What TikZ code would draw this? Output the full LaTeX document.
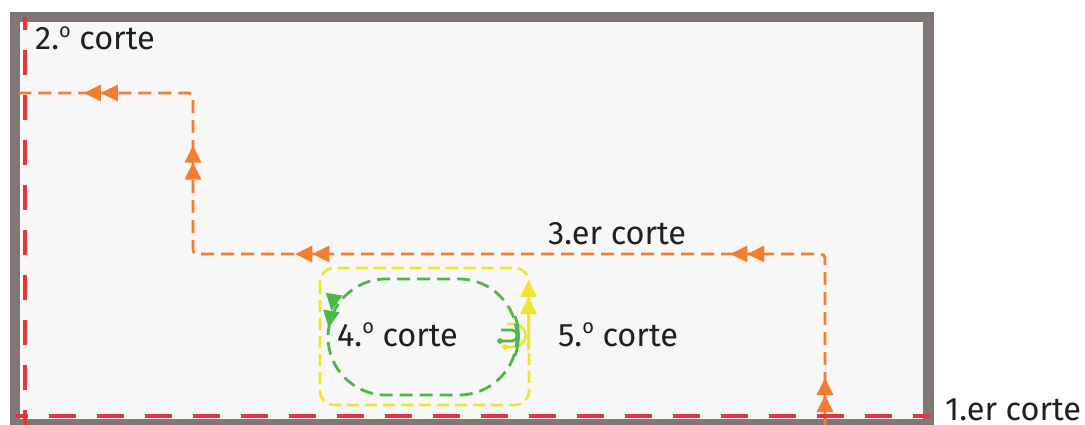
\documentclass[tikz,border=0pt]{standalone}
\usepackage{fontspec}
\setmainfont{Fira Sans}
\usetikzlibrary{arrows.meta,decorations.markings}
\definecolor{framegray}{HTML}{7F7773}
\definecolor{paper}{HTML}{F7F7F7}
\definecolor{cutred}{HTML}{E8343A}
\definecolor{cutorange}{HTML}{F47D2F}
\definecolor{cutgreen}{HTML}{4DB848}
\definecolor{cutyellow}{HTML}{EDE52E}
\definecolor{ink}{HTML}{231F20}
\newcommand{\ordo}{\raisebox{12.5pt}{\fontsize{20}{20}\selectfont o}}
\tikzset{
  dtri/.tip={Triangle[length=17pt,width=16pt] Triangle[length=17pt,width=16pt]},
  lbl/.style={font=\fontsize{32.5}{32.5}\selectfont, text=ink, inner sep=0pt, anchor=base west},
  redcut/.style={cutred, line width=3.2pt},
  orangecut/.style={cutorange, line width=2.8pt, dash pattern=on 13pt off 7pt},
  greencut/.style={cutgreen, line width=2.8pt},
  yellowcut/.style={cutyellow, line width=2.6pt},
}
\begin{document}
\begin{tikzpicture}[x=1pt,y=-1pt]
\useasboundingbox (0,0) rectangle (1085,425);
% frame and sheet
\fill[framegray] (10,12) rectangle (934,440);
\fill[paper] (20,22) rectangle (923,419);
% orange path (3rd cut)
\draw[orangecut, rounded corners=4pt,
  decoration={markings,
    mark=at position 47pt with {\arrow{dtri}},
    mark=at position 264pt with {\arrow{dtri}},
    mark=at position 699pt with {\arrow{dtri}},
    mark=at position 908pt with {\arrow{dtri}},
    mark=at position 1068pt with {\arrow{dtri}}},
  postaction={decorate}]
  (825,425) -- (825,254) -- (193,254) -- (193,93) -- (15,93);
% yellow rounded rectangle (5th cut)
\draw[yellowcut, dash pattern=on 12pt off 6pt, rounded corners=14pt] (320,268) rectangle (529,405);
\draw[yellowcut, -{Triangle[length=17pt,width=16pt] Triangle[length=17pt,width=16pt]}] (528.5,350) -- (528.5,280);
\draw[yellowcut] (507,324) -- (514,324) arc[start angle=-90,end angle=90,radius=11.5] -- (505,347);
\fill[cutyellow] (505,347) circle[radius=2.8pt];
% green loop (4th cut)
\draw[greencut, dash pattern=on 13pt off 7pt, rounded corners=58pt,
  decoration={markings, mark=at position 246pt with {\arrow{dtri}}},
  postaction={decorate}]
  (517,337) -- (517,279) -- (328,279) -- (328,395) -- (517,395) -- (517,337);
\draw[greencut] (515,316) arc[start angle=-20,end angle=20,radius=58];
\draw[greencut] (501,330) -- (512,330) arc[start angle=-90,end angle=90,radius=5.5] -- (500,341);
\fill[cutgreen] (500,341) circle[radius=2.8pt];
% red cuts
\draw[redcut, dash pattern=on 25pt off 20pt, dash phase=12pt] (25,17) -- (25,430);
\draw[redcut, dash pattern=on 27pt off 21pt, dash phase=14pt] (15,416) -- (930,416);
% labels
\node[lbl] (c2) at (35,50) {2.\ordo\ corte};
\node[lbl] (c3) at (548,244) {3.er corte};
\node[lbl] (c4) at (337,346) {4.\ordo\ corte};
\node[lbl] (c5) at (558,346) {5.\ordo\ corte};
\node[lbl] (c1) at (945,420) {1.er corte};
\end{tikzpicture}
\end{document}
